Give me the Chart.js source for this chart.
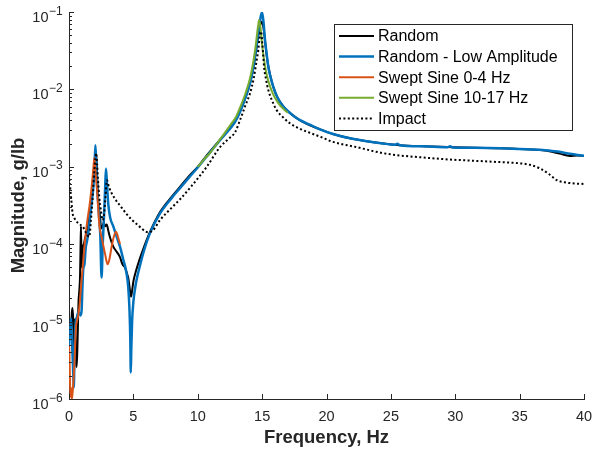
<!DOCTYPE html>
<html>
<head>
<meta charset="utf-8">
<script src="https://cdn.jsdelivr.net/npm/chart.js@4.4.1/dist/chart.umd.min.js"></script>
<style>
  html, body { margin: 0; padding: 0; background: #fff; }
</style>
</head>
<body>
<canvas id="myChart" width="595" height="451"></canvas>
<script>
// Random (black)
const randomFreq = [0, 0.08, 0.15, 0.22, 0.28, 0.35, 0.41, 0.48, 0.54, 0.6, 0.67, 0.74, 0.8, 0.86, 0.9, 0.93, 0.97, 1.02, 1.06, 1.15,
  1.25, 1.37, 1.5, 1.65, 1.8, 1.95, 2.05, 2.1, 2.18, 2.28, 2.41, 2.5, 2.6, 2.7, 2.8, 2.93, 3.05, 3.2, 3.44, 3.7,
  3.96, 4.15, 4.35, 4.5, 4.6, 4.7, 4.82, 4.9, 5.0, 5.2, 5.5, 5.8, 6.3, 7.07, 8, 8.62, 9.3, 10, 10.7, 11.73,
  12.5, 12.9, 13.28, 13.7, 14.06, 14.3, 14.45, 14.6, 14.7, 14.8, 14.9, 14.97, 15.05, 15.15, 15.25, 15.4, 15.6, 15.87, 16.2, 16.65,
  17.2, 17.68, 18.5, 19.5, 20.5, 22, 24.4, 25.7, 27.5, 29.8, 31.5, 33.5, 35, 36.8, 37.5, 38.1, 38.9, 39.5, 40];
const randomMag = [6e-6, 9e-6, 7e-6, 1.3e-5, 1.5e-5, 8e-6, 4.3e-6, 1.1e-5, 3e-6, 2.6e-6, 6e-6, 1.8e-5, 2.5e-5, 4e-5, 1.0e-4, 1.7e-4, 6e-5, 5e-5, 8.5e-5, 1.0e-4,
  1.2e-4, 1.4e-4, 1.8e-4, 2.8e-4, 5e-4, 1.0e-3, 1.5e-3, 1.6e-3, 8e-4, 3.5e-4, 2.3e-4, 1.6e-4, 1.7e-4, 1.9e-4, 1.7e-4, 1.8e-4, 1.5e-4, 1.2e-4, 9.3e-5, 8e-5,
  6.8e-5, 5.5e-5, 5.0e-5, 4.2e-5, 3.7e-5, 2.8e-5, 2.1e-5, 2.5e-5, 3.3e-5, 4.5e-5, 6.5e-5, 9e-5, 1.45e-4, 2.6e-4, 4.15e-4, 5.5e-4, 7.5e-4, 1.0e-3, 1.4e-3, 2.25e-3,
  3.15e-3, 3.9e-3, 5.2e-3, 7.8e-3, 1.2e-2, 1.85e-2, 2.6e-2, 3.8e-2, 4.9e-2, 6.2e-2, 7.2e-2, 7.5e-2, 7e-2, 5.5e-2, 3.9e-2, 2.4e-2, 1.6e-2, 1.07e-2, 7.8e-3, 6.0e-3,
  4.9e-3, 4.25e-3, 3.55e-3, 3.05e-3, 2.65e-3, 2.3e-3, 2.0e-3, 1.9e-3, 1.84e-3, 1.79e-3, 1.76e-3, 1.74e-3, 1.7e-3, 1.63e-3, 1.56e-3, 1.48e-3, 1.38e-3, 1.4e-3, 1.38e-3];

// Random - Low Amplitude (blue)
const lowAmpFreq = [0, 0.04, 0.1, 0.16, 0.22, 0.3, 0.37, 0.43, 0.5, 0.6, 0.7, 0.8, 0.9, 0.98, 1.05, 1.11, 1.2, 1.3, 1.4, 1.5,
  1.7, 1.89, 1.98, 2.05, 2.1, 2.2, 2.32, 2.43, 2.53, 2.62, 2.72, 2.8, 2.87, 2.95, 3.05, 3.2, 3.44, 3.7, 3.96, 4.2,
  4.47, 4.6, 4.7, 4.76, 4.8, 4.84, 4.9, 5.0, 5.15, 5.3, 5.5, 5.8, 6.3, 7.07, 8, 8.62, 9.3, 10, 10.7, 11.73,
  12.5, 12.9, 13.28, 13.7, 14.06, 14.3, 14.45, 14.6, 14.7, 14.8, 14.89, 14.95, 14.99, 15.04, 15.09, 15.15, 15.22, 15.35, 15.48, 15.65,
  15.87, 16.2, 16.65, 17.2, 17.68, 17.94, 18.7, 19.5, 20.5, 22, 24.4, 25.3, 25.5, 25.7, 27.5, 29.4, 29.6, 29.8, 31.5, 33.5,
  35, 36.8, 37.5, 38.1, 38.9, 39.5, 40];
const lowAmpMag = [5e-6, 9e-6, 8e-6, 1.1e-5, 6e-6, 3e-6, 1.4e-6, 4e-6, 9e-6, 1.1e-5, 1.3e-5, 1.3e-5, 1.2e-5, 1.4e-5, 3e-5, 4.8e-5, 5.5e-5, 9e-5, 1.1e-4, 1.4e-4,
  2.8e-4, 5.5e-4, 1.0e-3, 1.9e-3, 1.2e-3, 5e-4, 2.5e-4, 1.3e-4, 3.7e-5, 1.0e-4, 2.3e-4, 5e-4, 9.5e-4, 6e-4, 3.3e-4, 2.2e-4, 1.7e-4, 1.25e-4, 9.3e-5, 6.5e-5,
  4.2e-5, 2.8e-5, 1.4e-5, 6e-6, 2.2e-6, 4.5e-6, 1.0e-5, 1.8e-5, 2.8e-5, 3.8e-5, 5.2e-5, 8e-5, 1.4e-4, 2.5e-4, 4.0e-4, 5.3e-4, 7.2e-4, 9.8e-4, 1.36e-3, 2.2e-3,
  3.1e-3, 3.8e-3, 5.1e-3, 7.8e-3, 1.2e-2, 1.85e-2, 2.65e-2, 4.0e-2, 5.3e-2, 6.8e-2, 8.7e-2, 9.5e-2, 9.8e-2, 9.0e-2, 7.9e-2, 6.2e-2, 4.4e-2, 2.9e-2, 1.96e-2, 1.45e-2,
  1.08e-2, 7.8e-3, 6.0e-3, 4.9e-3, 4.26e-3, 4.0e-3, 3.5e-3, 3.05e-3, 2.65e-3, 2.3e-3, 2.0e-3, 1.93e-3, 1.98e-3, 1.9e-3, 1.84e-3, 1.79e-3, 1.84e-3, 1.78e-3, 1.76e-3, 1.74e-3,
  1.7e-3, 1.65e-3, 1.6e-3, 1.56e-3, 1.47e-3, 1.42e-3, 1.39e-3];

// Swept Sine 0-4 Hz (orange)
const sweptLowFreq = [0, 0.03, 0.08, 0.13, 0.16, 0.22, 0.28, 0.35, 0.41, 0.48, 0.54, 0.67, 0.8, 0.93, 1.06, 1.15, 1.24, 1.42, 1.6, 1.76,
  1.88, 1.97, 2.05, 2.2, 2.35, 2.55, 2.8, 3.0, 3.15, 3.31, 3.48, 3.65, 3.8, 3.96];
const sweptLowMag = [4.8e-6, 4.3e-6, 1.6e-6, 1.05e-6, 1.4e-6, 1.0e-6, 1.2e-6, 1.8e-6, 2.6e-6, 5e-6, 8.4e-6, 1.1e-5, 1.5e-5, 2.8e-5, 5e-5, 7.5e-5, 1.1e-4, 2.0e-4, 3.2e-4, 5.5e-4,
  9e-4, 1.3e-3, 9e-4, 4.5e-4, 1.8e-4, 1.2e-4, 7.5e-5, 5.5e-5, 6.5e-5, 9.3e-5, 1.25e-4, 1.45e-4, 1.25e-4, 1.0e-4];

// Swept Sine 10-17 Hz (green)
const sweptHighFreq = [10, 10.5, 11, 11.5, 12, 12.5, 13, 13.28, 13.7, 14.06, 14.3, 14.45, 14.55, 14.63, 14.7, 14.76, 14.82, 14.89, 14.96, 15.04,
  15.15, 15.3, 15.5, 15.75, 16.05, 16.39, 16.7, 17];
const sweptHighMag = [1.0e-3, 1.25e-3, 1.55e-3, 2.0e-3, 2.6e-3, 3.4e-3, 4.5e-3, 5.8e-3, 8.8e-3, 1.39e-2, 2.2e-2, 3.2e-2, 4.3e-2, 5.6e-2, 6.8e-2, 7.9e-2, 7.2e-2, 6.0e-2, 4.4e-2, 3.3e-2,
  2.4e-2, 1.7e-2, 1.25e-2, 9.5e-3, 7.5e-3, 6.2e-3, 5.5e-3, 5.0e-3];

// Impact (dotted)
const impactFreq = [0, 0.03, 0.1, 0.16, 0.22, 0.28, 0.4, 0.55, 0.67, 0.85, 1.06, 1.2, 1.32, 1.45, 1.58, 1.7, 1.84, 1.97, 2.05, 2.1,
  2.18, 2.25, 2.35, 2.48, 2.61, 2.72, 2.83, 2.95, 3.1, 3.3, 3.65, 4.0, 4.43, 4.9, 5.46, 5.98, 6.16, 6.5, 7.07, 8.1,
  8.62, 9.5, 10.7, 11.73, 12.4, 12.9, 13.28, 13.7, 14.06, 14.35, 14.58, 14.7, 14.78, 14.84, 14.89, 14.94, 14.99, 15.07, 15.15, 15.3,
  15.48, 15.8, 16.13, 16.6, 17.16, 17.94, 18.7, 19.5, 20.5, 22.3, 24.4, 25.7, 27.5, 29.6, 30.9, 33, 35, 35.8, 36.6, 37.3,
  37.9, 38.5, 39.2, 40];
const impactMag = [9.1e-4, 7e-4, 5.2e-4, 4.1e-4, 3.1e-4, 2.5e-4, 2.2e-4, 2.0e-4, 1.9e-4, 1.8e-4, 1.7e-4, 1.55e-4, 1.4e-4, 1.3e-4, 1.25e-4, 2.0e-4, 4.1e-4, 9e-4, 1.3e-3, 1.5e-3,
  1.1e-3, 7e-4, 4.1e-4, 2.7e-4, 2.05e-4, 2.4e-4, 4e-4, 6.7e-4, 5.5e-4, 4.6e-4, 3.7e-4, 3.1e-4, 2.5e-4, 2.05e-4, 1.7e-4, 1.45e-4, 1.43e-4, 1.5e-4, 2.05e-4, 3.1e-4,
  3.8e-4, 5.6e-4, 1.0e-3, 1.8e-3, 2.3e-3, 2.8e-3, 4.0e-3, 6.2e-3, 8.9e-3, 1.4e-2, 2.4e-2, 3.2e-2, 4.35e-2, 5.1e-2, 5.6e-2, 5.4e-2, 4.35e-2, 3e-2, 1.96e-2, 1.35e-2,
  9.8e-3, 7e-3, 5.4e-3, 4.4e-3, 3.65e-3, 3.1e-3, 2.75e-3, 2.45e-3, 2.1e-3, 1.8e-3, 1.5e-3, 1.4e-3, 1.32e-3, 1.24e-3, 1.21e-3, 1.16e-3, 1.11e-3, 1.06e-3, 9.5e-4, 8e-4,
  6.7e-4, 6.3e-4, 6.1e-4, 6.0e-4];

const xTickValues = [0, 5, 10, 15, 20, 25, 30, 35, 40];
const yTickValues = [1e-6, 1e-5, 1e-4, 1e-3, 1e-2, 1e-1];
const yTickExponents = ['\u22126', '\u22125', '\u22124', '\u22123', '\u22122', '\u22121'];

const axisColor = '#262626';
const fontFamily = "'Liberation Sans', Arial, Helvetica, sans-serif";
Chart.defaults.font.family = fontFamily;

function toPoints(xs, ys) {
  return xs.map((f, i) => ({ x: f, y: ys[i] }));
}

// inward tick marks, y labels with superscripts, boxed legend
const matlabAxes = {
  id: 'matlabAxes',
  afterDraw(chart) {
    const { ctx, chartArea: a, scales: { x, y } } = chart;
    ctx.save();
    ctx.strokeStyle = axisColor;
    ctx.lineWidth = 1;
    ctx.beginPath();
    xTickValues.forEach(v => {
      const px = Math.round(x.getPixelForValue(v)) + 0.5;
      ctx.moveTo(px, a.bottom);
      ctx.lineTo(px, a.bottom - 5);
    });
    yTickValues.forEach((v, i) => {
      for (let m = 1; m <= 9; m++) {
        if (i === yTickValues.length - 1 && m > 1) break;
        const py = Math.round(y.getPixelForValue(v * m)) + 0.5;
        ctx.moveTo(a.left, py);
        ctx.lineTo(a.left + (m === 1 ? 5 : 3), py);
      }
    });
    ctx.stroke();

    ctx.fillStyle = axisColor;
    ctx.textBaseline = 'alphabetic';
    yTickValues.forEach((v, i) => {
      const py = y.getPixelForValue(v);
      ctx.font = '14.5px ' + fontFamily;
      ctx.textAlign = 'right';
      ctx.fillText('10', 48.5, py + 10);
      ctx.font = '12px ' + fontFamily;
      ctx.textAlign = 'left';
      ctx.fillText(yTickExponents[i], 49, py + 2.5);
    });

    // legend
    const box = { left: 334.5, top: 24.5, width: 238, height: 106 };
    ctx.fillStyle = '#fff';
    ctx.fillRect(box.left, box.top, box.width, box.height);
    ctx.strokeStyle = axisColor;
    ctx.strokeRect(box.left, box.top, box.width, box.height);
    ctx.font = '16px ' + fontFamily;
    ctx.textBaseline = 'middle';
    ctx.textAlign = 'left';
    chart.data.datasets.forEach((ds, i) => {
      const ly = 36 + i * 20.6;
      ctx.strokeStyle = ds.borderColor;
      ctx.lineWidth = ds.borderWidth;
      ctx.setLineDash(ds.borderDash || []);
      ctx.beginPath();
      ctx.moveTo(339, ly);
      ctx.lineTo(374, ly);
      ctx.stroke();
      ctx.setLineDash([]);
      ctx.fillStyle = '#000';
      ctx.fillText(ds.label, 378, ly + 1);
    });
    ctx.restore();
  }
};

const ctx = document.getElementById('myChart');
new Chart(ctx, {
  type: 'line',
  data: {
    datasets: [{
      label: 'Random',
      data: toPoints(randomFreq, randomMag),
      borderColor: '#000000',
      borderWidth: 2,
      order: 5
    },
    {
      label: 'Random - Low Amplitude',
      data: toPoints(lowAmpFreq, lowAmpMag),
      borderColor: '#0072BD',
      borderWidth: 2.5,
      order: 4
    },
    {
      label: 'Swept Sine 0-4 Hz',
      data: toPoints(sweptLowFreq, sweptLowMag),
      borderColor: '#D95319',
      borderWidth: 2,
      order: 3
    },
    {
      label: 'Swept Sine 10-17 Hz',
      data: toPoints(sweptHighFreq, sweptHighMag),
      borderColor: '#77AC30',
      borderWidth: 2,
      order: 2
    },
    {
      label: 'Impact',
      data: toPoints(impactFreq, impactMag),
      borderColor: '#000000',
      borderWidth: 2,
      borderDash: [2, 2.4],
      order: 1
    }]
  },
  options: {
    responsive: false,
    animation: false,
    events: [],
    layout: { padding: { left: 0, right: 11, top: 12, bottom: 0 } },
    elements: {
      point: { radius: 0 },
      line: { fill: false, cubicInterpolationMode: 'monotone', borderCapStyle: 'butt' }
    },
    plugins: {
      legend: { display: false },
      tooltip: { enabled: false }
    },
    scales: {
      x: {
        type: 'linear',
        min: 0,
        max: 40,
        afterBuildTicks: s => { s.ticks = xTickValues.map(v => ({ value: v })); },
        afterFit: s => { s.height = 52; s.paddingLeft = 0; s.paddingRight = 0; },
        ticks: { color: axisColor, font: { size: 14.5, lineHeight: 1.2 }, padding: 9, maxRotation: 0 },
        grid: { display: true, drawOnChartArea: false, drawTicks: false },
        border: { color: axisColor, width: 1 },
        title: {
          display: true,
          text: 'Frequency, Hz',
          color: axisColor,
          font: { size: 18.5, weight: 'bold', lineHeight: 1.2 },
          padding: { top: 0, bottom: 1.5 }
        }
      },
      y: {
        type: 'logarithmic',
        min: 1e-6,
        max: 1e-1,
        afterBuildTicks: s => { s.ticks = yTickValues.map(v => ({ value: v })); },
        afterFit: s => { s.width = 69; s.paddingTop = 0; s.paddingBottom = 0; },
        ticks: { display: false },
        grid: { display: true, drawOnChartArea: false, drawTicks: false },
        border: { color: axisColor, width: 1 },
        title: {
          display: true,
          text: 'Magnitude, g/lb',
          color: axisColor,
          font: { size: 18.5, weight: 'bold', lineHeight: 1.2 },
          padding: { top: 7.4, bottom: 0 }
        }
      }
    }
  },
  plugins: [matlabAxes]
});
</script>
</body>
</html>
